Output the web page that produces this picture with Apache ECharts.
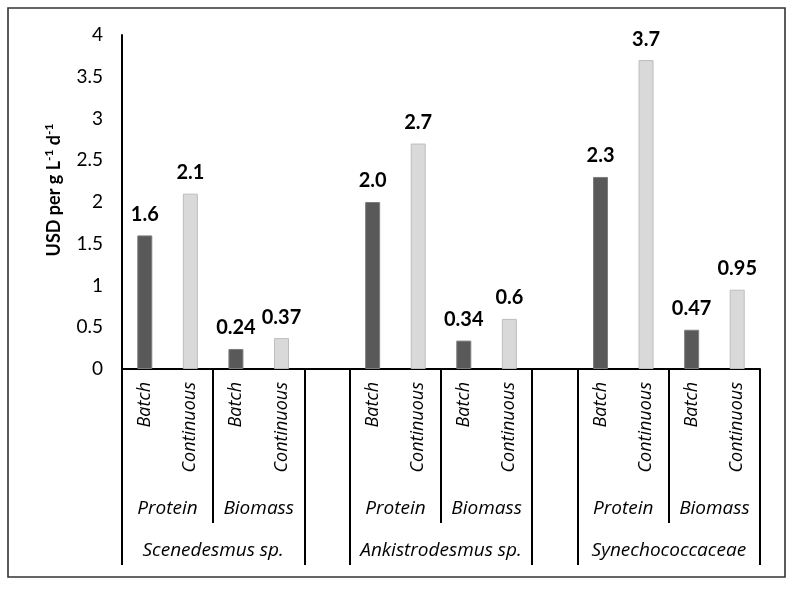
<!DOCTYPE html>
<html><head><meta charset="utf-8">
<script src="https://cdn.jsdelivr.net/npm/echarts@6/dist/echarts.min.js"></script>
<style>html,body{margin:0;padding:0;background:#fff}#c{width:796px;height:589px}</style>
</head><body><div id="c"></div>
<script>
// Level 1 categories (one per bar slot; '' = spacer slot between species)
const methods = ['Batch','Continuous','Batch','Continuous','','Batch','Continuous','Batch','Continuous','','Batch','Continuous','Batch','Continuous'];
// Bar values (USD per g L-1 d-1)
const values = [1.6, 2.1, 0.24, 0.37, null, 2.0, 2.7, 0.34, 0.6, null, 2.3, 3.7, 0.47, 0.95];
// Data label texts as printed
const valueLabels = ['1.6','2.1','0.24','0.37','','2.0','2.7','0.34','0.6','','2.3','3.7','0.47','0.95'];
// Level 2 and level 3 groups
const products = ['Protein','Biomass'];
const species = ['Scenedesmus sp.','Ankistrodesmus sp.','Synechococcaceae'];
// Y axis ticks
const yTicks = [0, 0.5, 1, 1.5, 2, 2.5, 3, 3.5, 4];

const N = methods.length;
// group boundaries in slot units
const speciesStart = species.map((s, i) => i * 5);
const longSeps = [];
speciesStart.forEach(s => { longSeps.push(s, s + 4); });
longSeps.push(N);
const shortSeps = speciesStart.map(s => s + 2);
const productCenters = {};
speciesStart.forEach(s => { products.forEach((p, j) => { productCenters[s + 1 + 2 * j] = p; }); });
const speciesCenters = {};
speciesStart.forEach((s, i) => { speciesCenters[s + 2] = species[i]; });

const FONT = 'Lato';
const CATFONT = 'Open Sans';
const dark = {color: '#595959', borderColor: '#7d7d7d', borderWidth: 1};
const light = {color: '#d9d9d9', borderColor: '#bdbdbd', borderWidth: 1};

const overlay = (extra) => Object.assign({
  type: 'value', min: 0, max: N, position: 'bottom', gridIndex: 0,
  axisLine: {show: false}, splitLine: {show: false},
  axisTick: {show: false}, axisLabel: {show: false}
}, extra);

const chart = echarts.init(document.getElementById('c'), null, {renderer: 'canvas'});
chart.setOption({
  backgroundColor: '#fff',
  animation: false,
  textStyle: {fontFamily: FONT},
  grid: {left: 122, right: 36, top: 35, bottom: 220},
  graphic: [{
    type: 'rect', shape: {x: 8, y: 8, width: 777, height: 569},
    style: {fill: 'none', stroke: '#333', lineWidth: 1.6}, z: -1
  }],
  xAxis: [
    {
      type: 'category', data: methods, position: 'bottom',
      axisLine: {show: true, lineStyle: {color: '#000', width: 2}},
      axisTick: {show: false},
      axisLabel: {interval: 0, rotate: 90, fontStyle: 'italic', fontSize: 18, color: '#000', margin: 13, fontFamily: CATFONT}
    },
    overlay({axisTick: {show: true, customValues: longSeps, length: 196, lineStyle: {color: '#000', width: 2}}}),
    overlay({axisTick: {show: true, customValues: shortSeps, length: 154, lineStyle: {color: '#000', width: 2}}}),
    overlay({axisLabel: {show: true, customValues: Object.keys(productCenters).map(Number),
      formatter: v => productCenters[v] || '', fontStyle: 'italic', fontSize: 19, color: '#000', margin: 130, fontFamily: CATFONT}}),
    overlay({axisLabel: {show: true, customValues: Object.keys(speciesCenters).map(Number),
      formatter: v => speciesCenters[v] || '', fontStyle: 'italic', fontSize: 19, color: '#000', margin: 172, fontFamily: CATFONT}})
  ],
  yAxis: {
    type: 'value', min: yTicks[0], max: yTicks[yTicks.length - 1], interval: yTicks[1] - yTicks[0],
    axisLine: {show: true, lineStyle: {color: '#000', width: 2}},
    axisTick: {show: false},
    splitLine: {show: false},
    axisLabel: {fontSize: 19, color: '#000', margin: 19, fontFamily: FONT},
    name: '{b|USD per g L}{s|-1}{b| d}{s|-1}',
    nameLocation: 'middle', nameGap: 57, nameRotate: 90,
    nameTextStyle: {
      padding: [0, 0, 0, 24],
      rich: {
        b: {fontSize: 18, fontWeight: 'bold', color: '#000', fontFamily: FONT, lineHeight: 22},
        s: {fontSize: 12, fontWeight: 'bold', color: '#000', fontFamily: FONT, lineHeight: 12, verticalAlign: 'top'}
      }
    }
  },
  series: [{
    type: 'bar', xAxisIndex: 0, yAxisIndex: 0,
    barWidth: 15,
    data: values.map((v, i) => ({value: v, itemStyle: methods[i] === 'Batch' ? dark : light})),
    label: {
      show: true, position: 'top', distance: 11,
      formatter: p => valueLabels[p.dataIndex],
      fontSize: 20, fontWeight: 'bold', color: '#000', fontFamily: FONT
    }
  }]
});
</script></body></html>
